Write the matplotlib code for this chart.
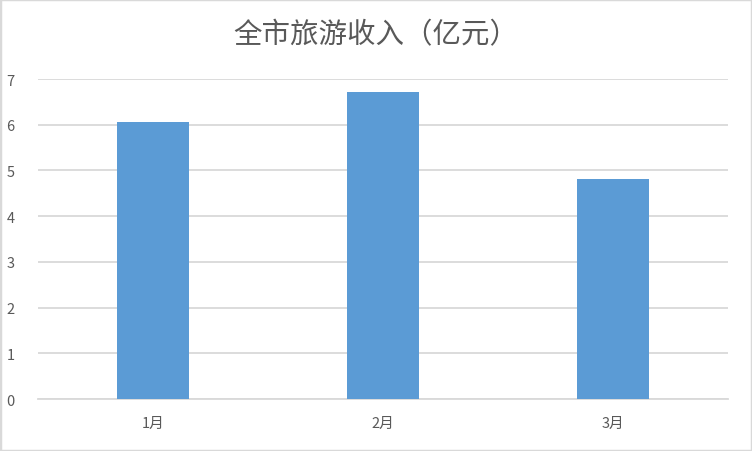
import matplotlib
matplotlib.use('Agg')
import matplotlib.pyplot as plt
from matplotlib.patches import Rectangle

plt.rcParams['font.family'] = ['Noto Sans CJK SC', 'DejaVu Sans']

months = ['1月', '2月', '3月']
income = [6.06, 6.72, 4.81]
title = '全市旅游收入（亿元）'

fig = plt.figure(figsize=(7.52, 4.52), dpi=100)
ax = fig.add_axes([38/752, 1 - 400/452, 690/752, 320/452])

x = range(len(months))
ax.bar(x, income, width=0.313, color='#5B9BD5', zorder=3)
ax.set_xlim(-0.5, 2.5)
ax.set_ylim(0, 7)
ax.set_yticks(range(0, 8))
ax.set_xticks(list(x))
ax.set_xticklabels(months)
ax.yaxis.grid(True, color='#D9D9D9', linewidth=1.3, zorder=0)
for s in ['top', 'right', 'left']:
    ax.spines[s].set_visible(False)
ax.spines['bottom'].set_color('#D9D9D9')
ax.spines['bottom'].set_linewidth(1.3)
ax.tick_params(length=0, colors='#595959', labelsize=10.5)
ax.tick_params(axis='x', pad=12)
ax.tick_params(axis='y', pad=17)

fig.text(0.5, 1 - 35/452, title, ha='center', va='center', fontsize=20.5, color='#595959')
fig.patches.append(Rectangle((0, 0), 1, 1, transform=fig.transFigure, fill=False,
                             edgecolor='#D9D9D9', linewidth=2.5))

fig.savefig('out.png', dpi=100)
